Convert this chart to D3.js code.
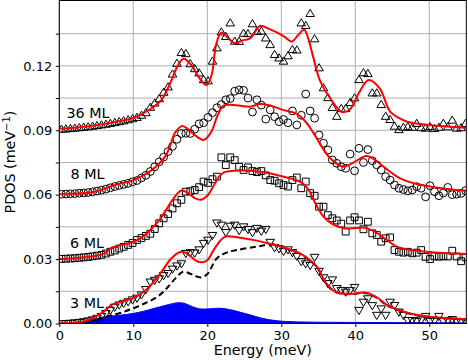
<!DOCTYPE html>
<html><head><meta charset="utf-8">
<script src="https://cdn.jsdelivr.net/npm/d3@7"></script>
<style>body{margin:0;background:#fff}svg{display:block;font-family:"DejaVu Sans",sans-serif}</style>
</head><body><svg id="c" width="468" height="360"></svg>
<script>
// Energy grid of the measured points (meV)
const energy=[0.3,0.9,1.5,2.1,2.7,3.3,3.9,4.5,5.1,5.7,6.3,6.9,7.5,8.1,8.7,9.3,9.9,10.5,11.1,11.7,12.3,12.9,13.5,14.1,14.7,15.3,15.9,16.5,17.1,17.7,18.3,18.9,19.5,20.1,20.7,21.3,21.9,22.5,23.1,23.7,24.3,24.9,25.5,26.1,26.7,27.3,27.9,28.5,29.1,29.7,30.3,30.9,31.5,32.1,32.7,33.3,33.9,34.5,35.1,35.7,36.3,36.9,37.5,38.1,38.7,39.3,39.9,40.5,41.1,41.7,42.3,42.9,43.5,44.1,44.7,45.3,45.9,46.5,47.1,47.7,48.3,48.9,49.5,50.1,50.7,51.3,51.9,52.5,53.1,53.7,54.3,54.9];
// Measured PDOS (before vertical offset), meV^-1
const pdos3=[0.0001,0.0002,0.0003,0.0005,0.0007,0.001,0.0014,0.0019,0.0026,0.0035,0.0048,0.0063,0.0078,0.0088,0.0096,0.0103,0.0112,0.012,0.0135,0.016,0.0195,0.0203,0.021,0.0225,0.0235,0.0255,0.027,0.028,0.0328,0.0332,0.033,0.0345,0.0375,0.039,0.0412,0.047,0.046,0.0426,0.0455,0.046,0.0435,0.0452,0.044,0.0425,0.0445,0.0432,0.044,0.038,0.0355,0.035,0.0338,0.0345,0.0332,0.0315,0.029,0.028,0.0272,0.031,0.0245,0.0215,0.0188,0.0205,0.0165,0.0156,0.0148,0.0155,0.017,0.0063,0.0101,0.0117,0.0085,0.004,0.007,0.004,0.0101,0.0086,0.0055,0.004,0.0016,0.0016,0.0012,0.0018,0.0035,0.0012,0.0015,0.0035,0.0012,0.0015,0.002,0.0012,0.0008,0.001];
const pdos6=[0.0001,0.0002,0.0003,0.0004,0.0006,0.0008,0.001,0.0013,0.0016,0.002,0.0026,0.0034,0.004,0.0049,0.0057,0.0066,0.0075,0.0089,0.0098,0.0108,0.0118,0.014,0.0167,0.019,0.021,0.0236,0.026,0.0276,0.0314,0.0316,0.0322,0.0335,0.0361,0.0355,0.0372,0.0384,0.0474,0.0438,0.0474,0.0461,0.043,0.0415,0.0427,0.041,0.0405,0.041,0.039,0.0368,0.0365,0.0353,0.0345,0.0338,0.0368,0.038,0.033,0.0361,0.0307,0.0295,0.0244,0.0244,0.0205,0.019,0.018,0.0165,0.0128,0.018,0.0195,0.018,0.0139,0.0174,0.012,0.0112,0.0081,0.0097,0.0101,0.0042,0.0034,0.003,0.0034,0.0027,0.003,0.0042,0.001,0.0,0.0013,0.0011,0.0013,0.0012,0.0039,0.0012,-0.001,0.0008];
const pdos8=[0.0002,0.0003,0.0004,0.0005,0.0007,0.0008,0.001,0.0013,0.0017,0.0021,0.0026,0.0032,0.0038,0.0043,0.0048,0.0053,0.006,0.0066,0.0078,0.009,0.0108,0.013,0.0153,0.0175,0.0201,0.0225,0.0258,0.0285,0.0286,0.0285,0.0305,0.033,0.0335,0.036,0.0382,0.0405,0.042,0.0442,0.0448,0.0482,0.0488,0.0486,0.045,0.0385,0.0442,0.0417,0.0352,0.0395,0.0363,0.034,0.035,0.0335,0.039,0.0325,0.037,0.0469,0.039,0.0356,0.0278,0.024,0.0208,0.0162,0.0146,0.013,0.0123,0.0189,0.0111,0.0216,0.015,0.021,0.0158,0.0139,0.0115,0.0084,0.0068,0.0045,0.003,0.0024,0.0018,0.0022,0.0037,0.003,-0.001,0.0042,0.0014,-0.0005,0.0008,0.0034,0.0,0.0002,0.0006,0.0019];
const pdos36=[0.0003,0.0004,0.0006,0.0008,0.001,0.0012,0.0014,0.0017,0.002,0.0023,0.0026,0.003,0.0034,0.0038,0.0042,0.0047,0.0052,0.0058,0.0068,0.008,0.0105,0.0125,0.0145,0.0175,0.02,0.026,0.031,0.036,0.0355,0.0308,0.0285,0.0265,0.0234,0.0228,0.032,0.0382,0.0456,0.0435,0.0498,0.0413,0.0412,0.045,0.0448,0.0494,0.0458,0.046,0.0428,0.0397,0.0351,0.0335,0.032,0.0345,0.0374,0.0372,0.0498,0.0486,0.0542,0.0424,0.0289,0.0196,0.015,0.0104,0.0063,0.0099,0.0099,0.0127,0.0149,0.0234,0.0266,0.0262,0.0172,0.0172,0.0118,0.0063,0.0048,0.0017,0.0001,0.0012,0.0014,0.0012,0.003,0.001,0.0008,0.0015,0.0006,0.0012,0.003,0.0014,0.0045,0.0008,0.001,0.003];

// Fitted curves (red)
const fit3E=[0,2,4,5,6,7,8,9,10,11,12,13,14,15,16,16.6,17.5,18.5,19.2,20,21,22,22.6,24,26.7,28,30,31.5,32.5,33.5,34.8,36,37,38,39.5,41.5,43,44.2,45.5,47.4,50,52.5,55];
const fit3V=[0,0.0003,0.0017,0.0035,0.0055,0.0085,0.0098,0.0108,0.0119,0.0138,0.0165,0.0205,0.025,0.0298,0.0328,0.0334,0.032,0.0292,0.0285,0.0295,0.035,0.0395,0.0406,0.0402,0.0386,0.0375,0.0358,0.034,0.0327,0.0305,0.0265,0.019,0.0155,0.0141,0.0139,0.0143,0.012,0.0088,0.0068,0.0047,0.0032,0.0025,0.002];
const fit6E=[0,2,4,5.5,6.3,6.9,8,9,10,11,12,12.5,13.6,14.7,15.6,16.5,17.4,18.3,19.1,20,20.8,21.5,22.2,24,25.8,27.5,29.4,31,32.5,33.3,33.9,34.6,35.7,36.8,38.4,40,41.1,42.2,43.3,44.5,45.6,47.5,49.6,52,55];
const fit6V=[0,0.0004,0.0011,0.0019,0.003,0.005,0.0062,0.0071,0.0081,0.0098,0.0125,0.0143,0.0185,0.0244,0.029,0.0319,0.0307,0.0284,0.0276,0.0295,0.0338,0.038,0.0403,0.0412,0.0412,0.0404,0.0392,0.0378,0.0361,0.034,0.031,0.026,0.0198,0.0165,0.0144,0.0145,0.0147,0.0135,0.0113,0.0083,0.0058,0.0042,0.0034,0.0028,0.0024];
const fit8E=[0,2,3.9,5.5,7.5,10,12.5,14.3,15,15.6,16.6,17.5,18.3,19.5,20.5,21.4,22.2,23.5,25.8,27.1,28.5,30.3,32.1,33.4,34.3,35.2,36.6,38.4,39.5,41.5,42.5,43.8,46,48,50.1,52.5,55];
const fit8V=[0.0002,0.0005,0.0009,0.002,0.0045,0.0068,0.0115,0.0177,0.023,0.0286,0.032,0.0302,0.0278,0.0255,0.029,0.037,0.0415,0.0418,0.041,0.0422,0.0415,0.0394,0.0376,0.0335,0.029,0.0239,0.017,0.013,0.0145,0.018,0.0165,0.0131,0.0077,0.0052,0.0038,0.0026,0.0018];
const fit36E=[0,2,4,6.2,8,10,12,13.8,15,16,16.8,17.8,19,19.9,20.6,21.2,21.9,22.8,23.7,24.7,25.8,26.5,27.1,28.5,30.3,31.4,32.2,33.1,33.7,34.3,35.2,36.6,38.2,39.3,40.5,41.8,43.3,44.7,46,47,49,51.4,55];
const fit36V=[0.0008,0.0012,0.0019,0.003,0.0042,0.0057,0.0092,0.0142,0.022,0.03,0.0333,0.0305,0.024,0.0211,0.026,0.04,0.0455,0.043,0.0405,0.0418,0.0428,0.046,0.0486,0.047,0.0439,0.0413,0.044,0.0468,0.042,0.0343,0.0234,0.0149,0.0085,0.0098,0.0175,0.0234,0.0195,0.0087,0.0055,0.004,0.0028,0.002,0.0012];
// 3 ML partial curve (black dashed) and projected PDOS (blue area)
const dash3E=[0,2,4,5.5,7,8.5,10,11.5,12.9,14,14.7,15.7,16.7,17.7,18.5,19.2,20,21.3,22.6,24,26.7,28.9,30,31.5,32.5,33.5,34.8,36,37,38,39.5,41.5,43,44.2,45.5,47.4,50,52.5,55];
const dash3V=[0,0.0002,0.0012,0.0024,0.0038,0.0052,0.0071,0.0093,0.0117,0.0145,0.0171,0.021,0.0241,0.0232,0.022,0.0215,0.023,0.0304,0.033,0.0342,0.0358,0.0369,0.0358,0.0338,0.0325,0.0303,0.0263,0.0188,0.0153,0.0139,0.0137,0.0141,0.0118,0.0086,0.0066,0.0045,0.003,0.0023,0.0018];
const blue3E=[0,2,4,6,8,10,11.5,13,14.5,16.1,17,18,19,20,21.7,23,24.5,25.8,27,28,30,33,40,47,55];
const blue3V=[0,0.0002,0.0012,0.003,0.0038,0.0047,0.0058,0.0072,0.0086,0.0097,0.0093,0.0078,0.0068,0.0068,0.0071,0.0065,0.0052,0.004,0.0028,0.002,0.0011,0.0007,0.0005,0.0004,0.0003];

const offsets=[0,0.03,0.06,0.09];
const labels=["3 ML","6 ML","8 ML","36 ML"];
const markers=["tdown","square","circle","tup"];
const xTicks=[0,10,20,30,40,50];
const yTicks=[0,0.015,0.03,0.045,0.06,0.075,0.09,0.105,0.12,0.135,0.15];
const yLabelTicks=[0,0.03,0.06,0.09,0.12];

const svg=d3.select("#c");
const L=59.3,R=466.3,T=0.5,B=323.5;
const x=d3.scaleLinear().domain([0,55]).range([L,R]);
const y=d3.scaleLinear().domain([0,0.1505]).range([B,B-0.1505*2147]);

svg.append("defs").append("clipPath").attr("id","clip").append("rect")
  .attr("x",L).attr("y",T).attr("width",R-L).attr("height",B-T);

// grid
const g=svg.append("g");
g.selectAll(".gx").data(xTicks).join("line")
  .attr("x1",d=>x(d)).attr("x2",d=>x(d)).attr("y1",T).attr("y2",B)
  .attr("stroke","#b0b0b0").attr("stroke-width",1);
g.selectAll(".gy").data(yTicks.filter(d=>d>0&&d<0.15)).join("line")
  .attr("x1",L).attr("x2",R).attr("y1",d=>y(d)).attr("y2",d=>y(d))
  .attr("stroke","#b0b0b0").attr("stroke-width",1);

const plot=svg.append("g").attr("clip-path","url(#clip)");

// blue area
plot.append("path").datum(blue3E.map((e,i)=>[e,blue3V[i]]))
  .attr("fill","#0000ff").attr("stroke","#0000ff").attr("stroke-width",1)
  .attr("d",d3.area().x(d=>x(d[0])).y0(y(0)).y1(d=>y(d[1])).curve(d3.curveCatmullRom.alpha(0.5)));

// markers
const series=[pdos3,pdos6,pdos8,pdos36];
const sym={
  tdown:(cx,cy)=>`M${cx-4.3},${cy-2.6}L${cx+4.3},${cy-2.6}L${cx},${cy+4.6}Z`,
  tup:(cx,cy)=>`M${cx-4.3},${cy+2.6}L${cx+4.3},${cy+2.6}L${cx},${cy-4.6}Z`,
  square:(cx,cy)=>`M${cx-3.4},${cy-3.4}h6.8v6.8h-6.8Z`,
  circle:(cx,cy)=>`M${cx-3.9},${cy}a3.9,3.9 0 1,0 7.8,0a3.9,3.9 0 1,0 -7.8,0Z`
};
series.forEach((vals,k)=>{
  const n=Math.min(vals.length,energy.length);
  const pts=d3.range(n).map(i=>[energy[i],vals[i]+offsets[k]]);
  plot.append("g").selectAll("path").data(pts).join("path")
    .attr("d",d=>sym[markers[k]](x(d[0]),y(d[1])))
    .attr("fill","none").attr("stroke","#000").attr("stroke-width",1);
});

// dashed curve
plot.append("path").datum(dash3E.map((e,i)=>[e,dash3V[i]]))
  .attr("fill","none").attr("stroke","#000").attr("stroke-width",2).attr("stroke-dasharray","6,3.5")
  .attr("d",d3.line().x(d=>x(d[0])).y(d=>y(d[1])).curve(d3.curveCatmullRom.alpha(0.5)));

// red fits
const fits=[[fit3E,fit3V],[fit6E,fit6V],[fit8E,fit8V],[fit36E,fit36V]];
fits.forEach(([E,V],k)=>{
  plot.append("path").datum(E.map((e,i)=>[e,V[i]+offsets[k]]))
    .attr("fill","none").attr("stroke","#ff0000").attr("stroke-width",2)
    .attr("d",d3.line().x(d=>x(d[0])).y(d=>y(d[1])).curve(d3.curveCatmullRom.alpha(0.5)));
});

// frame
svg.append("rect").attr("x",L).attr("y",T).attr("width",R-L).attr("height",B-T)
  .attr("fill","none").attr("stroke","#000").attr("stroke-width",1);

// axes ticks
const ax=svg.append("g").attr("transform",`translate(0,${B})`)
  .call(d3.axisBottom(x).tickValues(xTicks).tickSize(3.5).tickPadding(3.5).tickFormat(d3.format("d")));
const ay=svg.append("g").attr("transform",`translate(${L},0)`)
  .call(d3.axisLeft(y).tickValues(yTicks.filter(d=>d<0.15)).tickSize(3.5).tickPadding(3.5)
    .tickFormat(d=>yLabelTicks.some(t=>Math.abs(t-d)<1e-9)?d3.format(".2f")(d):""));
[ax,ay].forEach(a=>{
  a.select(".domain").remove();
  a.selectAll("text").attr("font-size",13).attr("fill","#000").attr("font-family","DejaVu Sans");
  a.selectAll("line").attr("stroke","#000");
});

// series labels
const labPos=[[70,308],[70,248],[70.5,178.5],[66.5,117.5]];
labels.forEach((t,k)=>{
  svg.append("text").attr("x",labPos[k][0]).attr("y",labPos[k][1])
    .attr("font-size",14.3).attr("fill","#000").text(t);
});

// axis titles
svg.append("text").attr("x",(L+R)/2).attr("y",354.5).attr("text-anchor","middle")
  .attr("font-size",14.3).attr("fill","#000").text("Energy (meV)");
const yl=svg.append("text").attr("transform",`translate(15,${(T+B)/2}) rotate(-90)`)
  .attr("text-anchor","middle").attr("font-size",14.3).attr("fill","#000");
yl.append("tspan").text("PDOS (meV");
yl.append("tspan").attr("dy",-5).attr("font-size",10).text("−1");
yl.append("tspan").attr("dy",5).text(")");
</script></body></html>
